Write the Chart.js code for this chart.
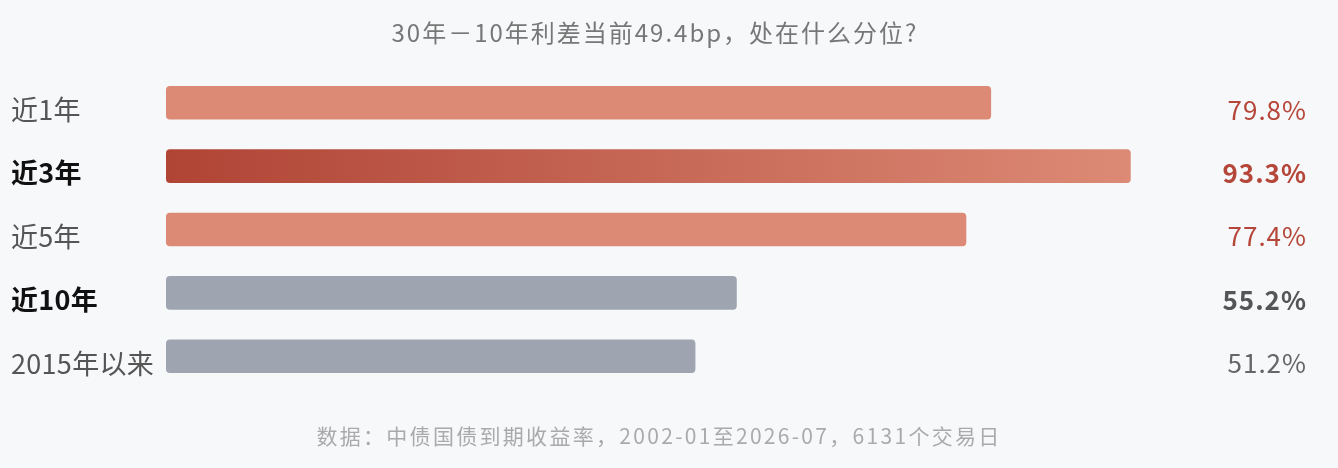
<!DOCTYPE html>
<html><head><meta charset="utf-8">
<script src="https://cdn.jsdelivr.net/npm/chart.js@4.4.1/dist/chart.umd.min.js"></script>
<style>
html,body{margin:0;padding:0;background:#F7F8FA;}
#wrap{width:1338px;height:468px;position:relative;}
</style></head>
<body><div id="wrap"><canvas id="c" width="1338" height="468"></canvas></div>
<script>
const categories = ['近1年','近3年','近5年','近10年','2015年以来'];
const percentiles = [79.8, 93.3, 77.4, 55.2, 51.2];
const valueLabels = ['79.8%','93.3%','77.4%','55.2%','51.2%'];
const emphasized = [false, true, false, true, false];
const redGroup = [true, true, true, false, false];
const titleText = '30年－10年利差当前49.4bp，处在什么分位?';
const footerText = '数据：中债国债到期收益率，2002-01至2026-07，6131个交易日';

const FONT = '"PingFang SC","Noto Sans CJK SC","Noto Sans",sans-serif';

function barColor(ctx){
  const i = ctx.dataIndex;
  if (!redGroup[i]) return '#9EA5B1';
  if (i === 1) {
    const chart = ctx.chart;
    const area = chart.chartArea;
    if (!area) return '#C7604F';
    const xs = chart.scales.x;
    const g = chart.ctx.createLinearGradient(xs.getPixelForValue(0), 0, xs.getPixelForValue(percentiles[1]), 0);
    g.addColorStop(0, '#B04435');
    g.addColorStop(1, '#DC8A75');
    return g;
  }
  return '#DC8A75';
}

const textPlugin = {
  id: 'textPlugin',
  afterDraw(chart){
    const c = chart.ctx;
    const ys = chart.scales.y;
    c.save();
    c.textBaseline = 'middle';
    categories.forEach((cat, i) => {
      const y = ys.getPixelForValue(i);
      c.letterSpacing = '0.3px';
      c.font = (emphasized[i] ? 'bold ' : '') + '27px ' + FONT;
      c.fillStyle = emphasized[i] ? '#111111' : '#555555';
      c.textAlign = 'left';
      c.fillText(cat, 11, y + 7);
      c.letterSpacing = '1px';
      c.font = (emphasized[i] ? 'bold ' : '') + '26px ' + FONT;
      c.fillStyle = redGroup[i] ? '#B5473A' : (emphasized[i] ? '#555555' : '#666666');
      c.textAlign = 'right';
      c.fillText(valueLabels[i], 1307, y + 7);
    });
    c.textAlign = 'center';
    c.letterSpacing = '2px';
    c.font = '24px ' + FONT;
    c.fillStyle = '#777777';
    c.fillText(titleText, 655, 33);
    c.letterSpacing = '2.3px';
    c.font = '21px ' + FONT;
    c.fillStyle = '#AAAAAA';
    c.fillText(footerText, 659, 436);
    c.restore();
  }
};

new Chart(document.getElementById('c'), {
  type: 'bar',
  data: {
    labels: categories,
    datasets: [{
      data: percentiles,
      backgroundColor: barColor,
      borderRadius: 4,
      borderSkipped: false,
      barPercentage: 1,
      categoryPercentage: 0.53
    }]
  },
  options: {
    indexAxis: 'y',
    responsive: false,
    animation: false,
    layout: { padding: { left: 166, right: 138, top: 71, bottom: 80 } },
    plugins: { legend: { display: false }, tooltip: { enabled: false }, title: { display: false } },
    scales: {
      x: { display: false, min: 0, max: 100 },
      y: { display: false }
    }
  },
  plugins: [textPlugin]
});
</script></body></html>
